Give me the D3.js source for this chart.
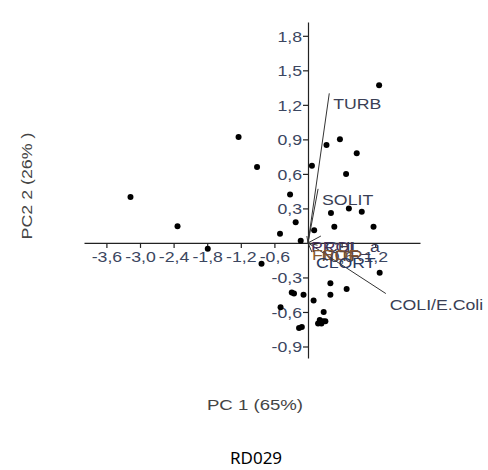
<!DOCTYPE html>
<html>
<head>
<meta charset="utf-8">
<script src="https://cdn.jsdelivr.net/npm/d3@7"></script>
<style>
  html, body { margin: 0; padding: 0; background: #fff; }
  svg { display: block; }
</style>
</head>
<body>
<svg id="chart" width="488" height="470"></svg>
<script>
// ---------- Data ----------
const xTicks = [-3.6, -3.0, -2.4, -1.8, -1.2, -0.6, 0.6, 1.2];
const yTicks = [-0.9, -0.6, -0.3, 0.3, 0.6, 0.9, 1.2, 1.5, 1.8];

// sample scores (PC1, PC2)
const scoreX = [-3.17, -2.33, -1.79, -1.24, -0.91, -0.83, -0.50, -0.32, -0.22, -0.13,
                 0.07,  0.11,  0.33,  0.57,  0.87,  0.68,  0.41,  0.73,  0.96,  0.47,
                 1.17,  1.27,  1.28,  0.40,  0.69,  0.40, -0.29, -0.25, -0.08,  0.10,
                -0.49,  0.28,  0.21,  0.27,  0.31,  0.18,  0.24, -0.11, -0.16];
const scoreY = [ 0.40,  0.145, -0.05,  0.92,  0.66, -0.18,  0.08,  0.42,  0.18,  0.02,
                 0.67,  0.11,  0.85,  0.90,  0.78,  0.60,  0.26,  0.30,  0.27,  0.14,
                 0.14,  1.37, -0.26, -0.35, -0.40, -0.45, -0.43, -0.44, -0.45, -0.50,
                -0.56, -0.60, -0.67, -0.68, -0.68, -0.70, -0.70, -0.73, -0.74];

// variable loadings (biplot vectors)
const loadNames  = ["TURB", "SOLIT", "COLI/E.Coli", "PROL", "CHL_a", "FEOF", "NITR", "CLORT"];
const loadX      = [0.38, 0.18, 1.39, -0.02, 0.23, 0.00, 0.17, 0.07];
const loadY      = [1.30, 0.47, -0.44, 0.06, 0.06, -0.01, -0.02, -0.08];
const loadColors = ["#3a3f55", "#3a3f55", "#3a3f55", "#4a3560", "#3a3a55", "#8a5a30", "#6a4a3a", "#2a3a60"];

// ---------- Layout ----------
const svg = d3.select('#chart');
const SX = 1.18; // text in the picture is stretched horizontally
const fmt = v => d3.format('.1f')(v).replace('−', '-').replace('.', ',');

const x = d3.scaleLinear().domain([-4, 2]).range([84, 420]);
const y = d3.scaleLinear().domain([-1.0, 1.92]).range([358, 22]);

// ---------- Axes (crossing at the origin) ----------
const xAxis = svg.append('g')
  .attr('transform', `translate(0,${y(0)})`)
  .call(d3.axisBottom(x).tickValues(xTicks).tickSize(5).tickSizeOuter(0).tickFormat(fmt));

const yAxis = svg.append('g')
  .attr('transform', `translate(${x(0)},0)`)
  .call(d3.axisLeft(y).tickValues(yTicks).tickSize(5).tickSizeOuter(0).tickFormat(fmt));

[xAxis, yAxis].forEach(a => {
  a.select('.domain').attr('stroke', '#222').attr('stroke-width', 1.2);
  a.selectAll('.tick line').attr('stroke', '#222').attr('stroke-width', 1.2);
  a.selectAll('.tick text')
    .attr('fill', '#3b4660')
    .attr('font-family', 'Liberation Sans, Arial, sans-serif')
    .attr('font-size', 15);
});
xAxis.selectAll('.tick text').attr('y', 8).attr('dy', '0.71em')
  .attr('transform', `scale(${SX},1)`);
yAxis.selectAll('.tick text').attr('x', -6 / SX).attr('dy', '0.36em')
  .attr('transform', `scale(${SX},1)`);

// ---------- Loading vectors ----------
const loadings = loadNames.map((n, i) => ({ name: n, lx: loadX[i], ly: loadY[i], color: loadColors[i] }));

svg.append('g').attr('class', 'vectors')
  .selectAll('line')
  .data(loadings)
  .join('line')
  .attr('x1', x(0)).attr('y1', y(0))
  .attr('x2', d => x(d.lx)).attr('y2', d => y(d.ly))
  .attr('stroke', '#333')
  .attr('stroke-width', 1);

// ---------- Score points ----------
svg.append('g').attr('class', 'points')
  .selectAll('circle')
  .data(scoreX.map((v, i) => [v, scoreY[i]]))
  .join('circle')
  .attr('cx', d => x(d[0]))
  .attr('cy', d => y(d[1]))
  .attr('r', 3)
  .attr('fill', '#000');

// ---------- Vector labels ----------
svg.append('g').attr('class', 'vector-labels')
  .selectAll('text')
  .data(loadings)
  .join('text')
  .attr('transform', d => `translate(${x(d.lx) + 4},${y(d.ly) + 16}) scale(${SX},1)`)
  .attr('fill', d => d.color)
  .attr('font-family', 'Liberation Sans, Arial, sans-serif')
  .attr('font-size', 15)
  .text(d => d.name);

// ---------- Titles ----------
svg.append('text')
  .attr('transform', `translate(255,410) scale(1.2,1)`)
  .attr('text-anchor', 'middle')
  .attr('fill', '#444')
  .attr('font-family', 'Liberation Sans, Arial, sans-serif')
  .attr('font-size', 15.5)
  .text('PC 1 (65%)');

svg.append('text')
  .attr('transform', `translate(32,186) rotate(-90) scale(1.15,1)`)
  .attr('text-anchor', 'middle')
  .attr('fill', '#444')
  .attr('font-family', 'Liberation Sans, Arial, sans-serif')
  .attr('font-size', 15.5)
  .text('PC2 2 (26% )');

svg.append('text')
  .attr('x', 256).attr('y', 464)
  .attr('text-anchor', 'middle')
  .attr('fill', '#000')
  .attr('font-family', 'Noto Sans, sans-serif')
  .attr('font-size', 17)
  .text('RD029');
</script>
</body>
</html>
